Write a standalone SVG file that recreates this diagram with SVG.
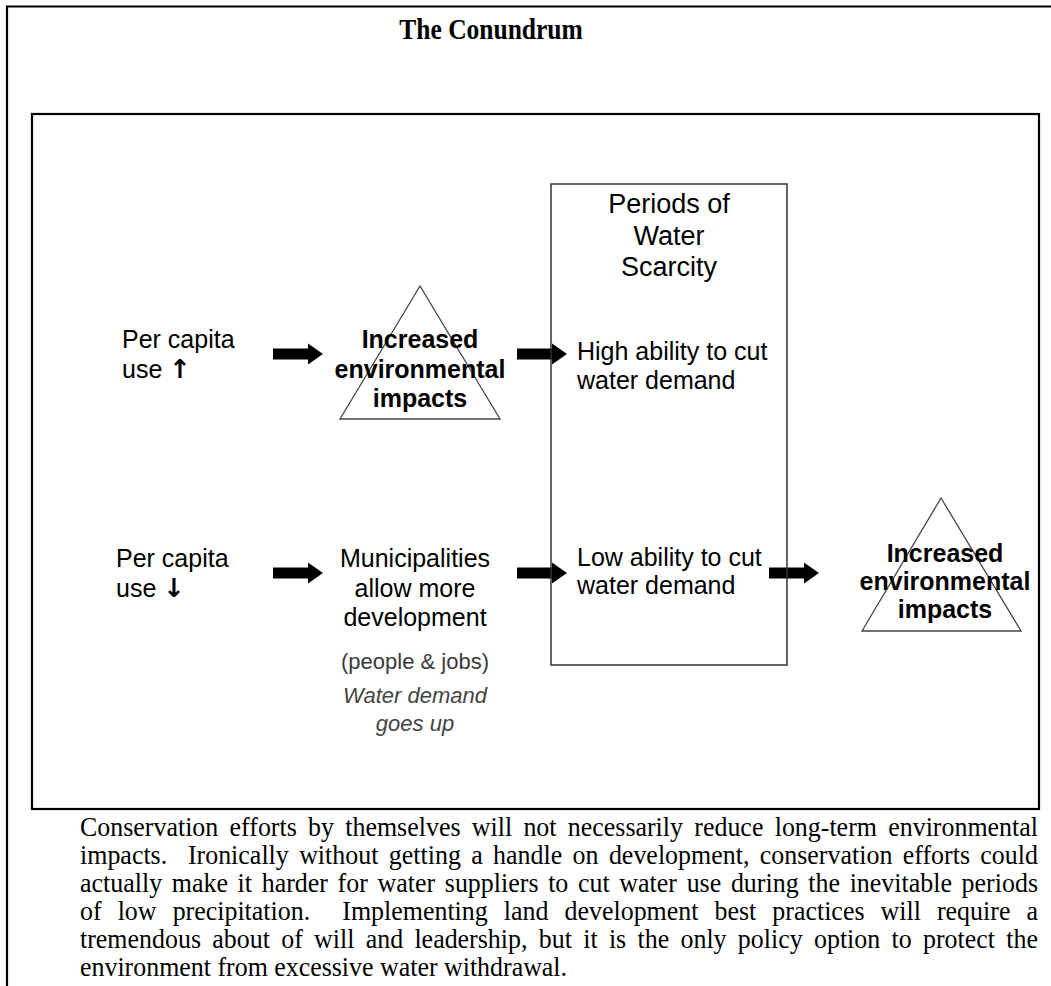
<svg xmlns="http://www.w3.org/2000/svg" width="1051" height="986" viewBox="0 0 1051 986">
<defs>
<style>
.sans{font-family:"Liberation Sans",Arial,sans-serif;fill:#000}
.body{font-size:25px}
.head{font-size:27px}
.bold{font-weight:bold}
.updown{font-family:"DejaVu Sans","Liberation Sans",sans-serif;font-weight:bold;font-size:26px}
.note{font-size:22px;fill:#3a3a3a}
.it{font-style:italic;fill:#444}
.serif{font-family:"Liberation Serif","Times New Roman",serif;fill:#000}
.para{font-size:27px}
.tri{fill:none;stroke:#444;stroke-width:1.3}
.frame{fill:none;stroke:#000;stroke-width:2.2}
.box{fill:none;stroke:#333;stroke-width:1.5}
.arrow{fill:#000}
</style>
<path id="arr" d="M0,-5.5 H35 V-10.5 L50,0 L35,10.5 V5.5 H0 Z"/>
</defs>
<rect width="1051" height="986" fill="#fff"/>
<g id="page-frame">
<path class="frame" d="M1051,6.5 H7 V986"/>
<rect class="frame" x="32" y="114" width="1007" height="695"/>
</g>
<g id="title">
<text class="serif bold" transform="translate(491,39) scale(0.88,1)" font-size="29" text-anchor="middle">The Conundrum</text>
</g>
<g id="connectors">
<use href="#arr" class="arrow" x="273" y="354"/>
<use href="#arr" class="arrow" x="517" y="354"/>
<use href="#arr" class="arrow" x="273" y="573"/>
<use href="#arr" class="arrow" x="517" y="573"/>
<use href="#arr" class="arrow" x="769" y="573"/>
</g>
<g id="per-capita-up">
<text class="sans body" x="122" y="348">Per capita</text>
<text class="sans body" x="122" y="378">use <tspan class="updown">↑</tspan></text>
</g>
<g id="impacts-1">
<polygon class="tri" points="420,286 340,419 500,419"/>
<text class="sans body bold" text-anchor="middle"><tspan x="420" y="348">Increased</tspan><tspan x="420" y="378">environmental</tspan><tspan x="420" y="407">impacts</tspan></text>
</g>
<g id="scarcity">
<rect class="box" x="551" y="184" width="236" height="481"/>
<text class="sans head" text-anchor="middle"><tspan x="669" y="213">Periods of</tspan><tspan x="669" y="245">Water</tspan><tspan x="669" y="276">Scarcity</tspan></text>
</g>
<g id="high-ability">
<text class="sans body"><tspan x="577" y="360">High ability to cut</tspan><tspan x="577" y="389">water demand</tspan></text>
</g>
<g id="low-ability">
<text class="sans body"><tspan x="577" y="566">Low ability to cut</tspan><tspan x="577" y="594">water demand</tspan></text>
</g>
<g id="per-capita-down">
<text class="sans body" x="116" y="567">Per capita</text>
<text class="sans body" x="116" y="597">use <tspan class="updown">↓</tspan></text>
</g>
<g id="municipalities">
<text class="sans body" text-anchor="middle"><tspan x="415" y="567">Municipalities</tspan><tspan x="415" y="597">allow more</tspan><tspan x="415" y="626">development</tspan></text>
<text class="sans note" x="415" y="669" text-anchor="middle">(people &amp; jobs)</text>
<text class="sans note it" text-anchor="middle"><tspan x="415" y="703">Water demand</tspan><tspan x="415" y="731">goes up</tspan></text>
</g>
<g id="impacts-2">
<polygon class="tri" points="941,498 862,631 1021,631"/>
<text class="sans body bold" text-anchor="middle"><tspan x="945" y="562">Increased</tspan><tspan x="945" y="590">environmental</tspan><tspan x="945" y="618">impacts</tspan></text>
</g>
<g id="paragraph" transform="translate(80,0) scale(0.96,1)">
<text class="serif para" x="0" y="836" word-spacing="5" textLength="997.9" lengthAdjust="spacing">Conservation efforts by themselves will not necessarily reduce long-term environmental</text>
<text class="serif para" x="0" y="864" word-spacing="4" textLength="997.9" lengthAdjust="spacing" xml:space="preserve">impacts.  Ironically without getting a handle on development, conservation efforts could</text>
<text class="serif para" x="0" y="892" word-spacing="3.3" textLength="997.9" lengthAdjust="spacing">actually make it harder for water suppliers to cut water use during the inevitable periods</text>
<text class="serif para" x="0" y="920" word-spacing="10" textLength="997.9" lengthAdjust="spacing" xml:space="preserve">of low precipitation.  Implementing land development best practices will require a</text>
<text class="serif para" x="0" y="948" word-spacing="5" textLength="997.9" lengthAdjust="spacing">tremendous about of will and leadership, but it is the only policy option to protect the</text>
<text class="serif para" x="0" y="976">environment from excessive water withdrawal.</text>
</g>
</svg>
